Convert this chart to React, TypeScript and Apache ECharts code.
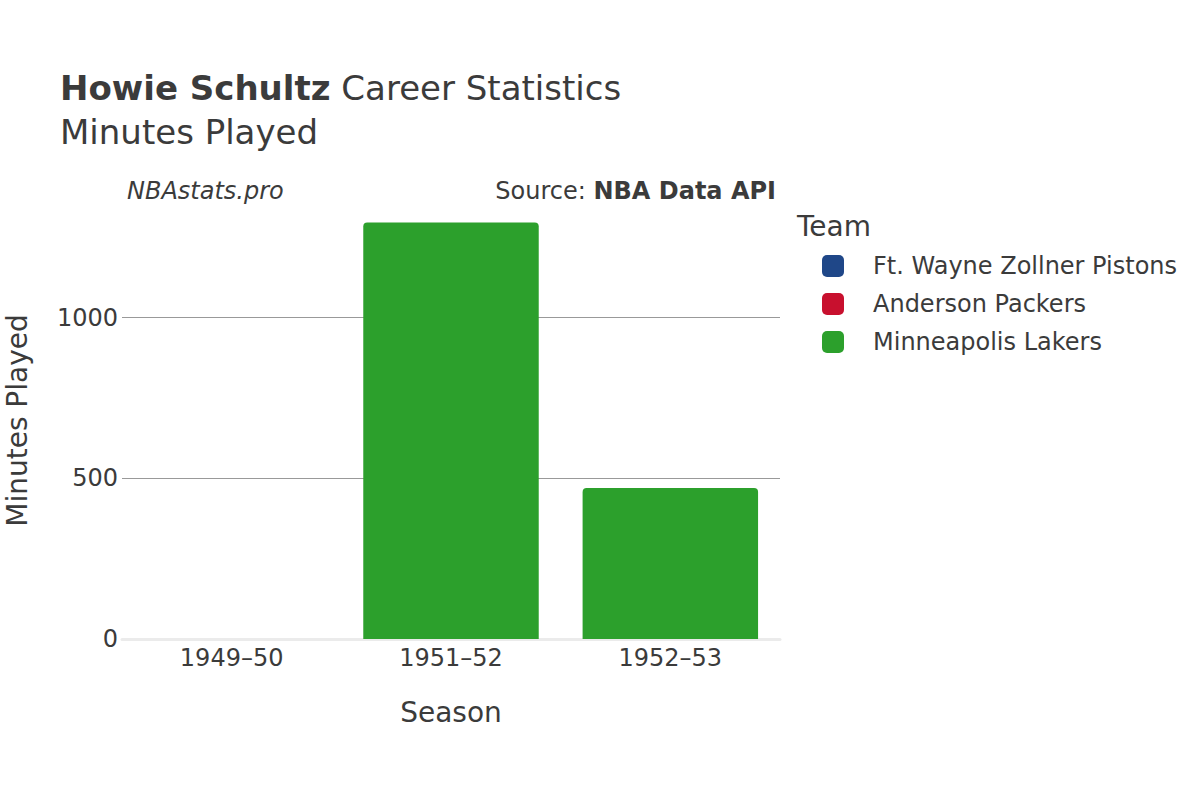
import React, { useEffect, useRef } from "react";
import * as echarts from "echarts";

const seasons = ["1949–50", "1951–52", "1952–53"];
const teams = ["Ft. Wayne Zollner Pistons", "Anderson Packers", "Minneapolis Lakers"];
const teamColors = ["#1f4788", "#c8102e", "#2ca02c"];
const ftWayneMinutes = [0, null, null];
const andersonMinutes = [0, null, null];
const lakersMinutes = [null, 1296, 470];
const gridValues = [500, 1000];

const FONT = "DejaVu Sans";
const TEXT = "#3b3b3b";
// rounded square used as the legend marker
const LEGEND_ICON =
  "path://M5,0 H17 A5,5 0 0 1 22,5 V17 A5,5 0 0 1 17,22 H5 A5,5 0 0 1 0,17 V5 A5,5 0 0 1 5,0 Z";

const App = function () {
  const chart = useRef<HTMLDivElement>(null);
  useEffect(() => {
    document.body.style.margin = "0";
    if (!chart.current) return;
    const myChart = echarts.init(chart.current, null, { renderer: "svg" });
    const values = [ftWayneMinutes, andersonMinutes, lakersMinutes];
    const option = {
      animation: false,
      textStyle: { fontFamily: FONT, color: TEXT },
      title: [
        {
          text: "{b|Howie Schultz} Career Statistics\nMinutes Played",
          left: 60,
          top: 66,
          padding: 0,
          textStyle: {
            fontFamily: FONT,
            fontSize: 34,
            fontWeight: "normal",
            color: TEXT,
            lineHeight: 44,
            rich: {
              b: { fontFamily: FONT, fontSize: 34, fontWeight: "bold", color: TEXT, lineHeight: 44 },
            },
          },
        },
        {
          text: "NBAstats.pro",
          left: 127,
          top: 179,
          padding: 0,
          textStyle: { fontFamily: FONT, fontSize: 24, fontStyle: "italic", fontWeight: "normal", color: TEXT },
        },
        {
          text: "Source: {b|NBA Data API}",
          right: 424,
          top: 179,
          padding: 0,
          textStyle: {
            fontFamily: FONT,
            fontSize: 24,
            fontWeight: "normal",
            color: TEXT,
            rich: { b: { fontFamily: FONT, fontSize: 24, fontWeight: "bold", color: TEXT } },
          },
        },
        {
          text: "Team",
          left: 797,
          top: 212,
          padding: 0,
          textStyle: { fontFamily: FONT, fontSize: 28, fontWeight: "normal", color: TEXT },
        },
      ],
      legend: {
        orient: "vertical",
        left: 822,
        top: 254,
        padding: 0,
        icon: LEGEND_ICON,
        itemWidth: 22,
        itemHeight: 22,
        itemGap: 14,
        data: teams,
        textStyle: { fontFamily: FONT, fontSize: 24, color: TEXT, padding: [0, 0, 0, 24] },
      },
      grid: {
        left: 122,
        right: 420,
        top: 202,
        bottom: 161,
        containLabel: false,
        outerBoundsMode: "none",
      },
      xAxis: {
        type: "category",
        data: seasons,
        name: "Season",
        nameLocation: "middle",
        nameGap: 59,
        nameTextStyle: { fontFamily: FONT, fontSize: 28, color: TEXT },
        axisLine: { show: true, lineStyle: { color: "#ebebeb", width: 3 } },
        axisTick: { show: false },
        axisLabel: { fontFamily: FONT, fontSize: 24, color: TEXT, margin: 7 },
      },
      yAxis: {
        type: "value",
        min: 0,
        max: 1360,
        interval: 500,
        name: "Minutes Played",
        nameLocation: "middle",
        nameGap: 91,
        nameTextStyle: { fontFamily: FONT, fontSize: 28, color: TEXT },
        axisLine: { show: false },
        axisTick: { show: false },
        splitLine: { show: false },
        axisLabel: {
          fontFamily: FONT,
          fontSize: 24,
          color: TEXT,
          margin: 4,
          showMaxLabel: false,
          formatter: (v: number) => String(v),
        },
      },
      series: teams.map((name, i) => ({
        name,
        type: "bar",
        stack: "total",
        barCategoryGap: "20%",
        data: values[i],
        itemStyle: { color: teamColors[i], borderRadius: [4, 4, 0, 0] },
        z: 2,
        markLine:
          i === 2
            ? {
                silent: true,
                symbol: "none",
                z: 1,
                label: { show: false },
                lineStyle: { color: "#999", width: 1, type: "solid" },
                data: gridValues.map((v) => ({ yAxis: v })),
              }
            : undefined,
      })),
    };
    myChart.setOption(option);
    return () => {
      myChart.dispose();
    };
  }, []);
  return (
    <div
      ref={chart}
      style={{ position: "absolute", left: 0, top: 0, width: "1200px", height: "800px", background: "#fff" }}
    ></div>
  );
};

export default App;
